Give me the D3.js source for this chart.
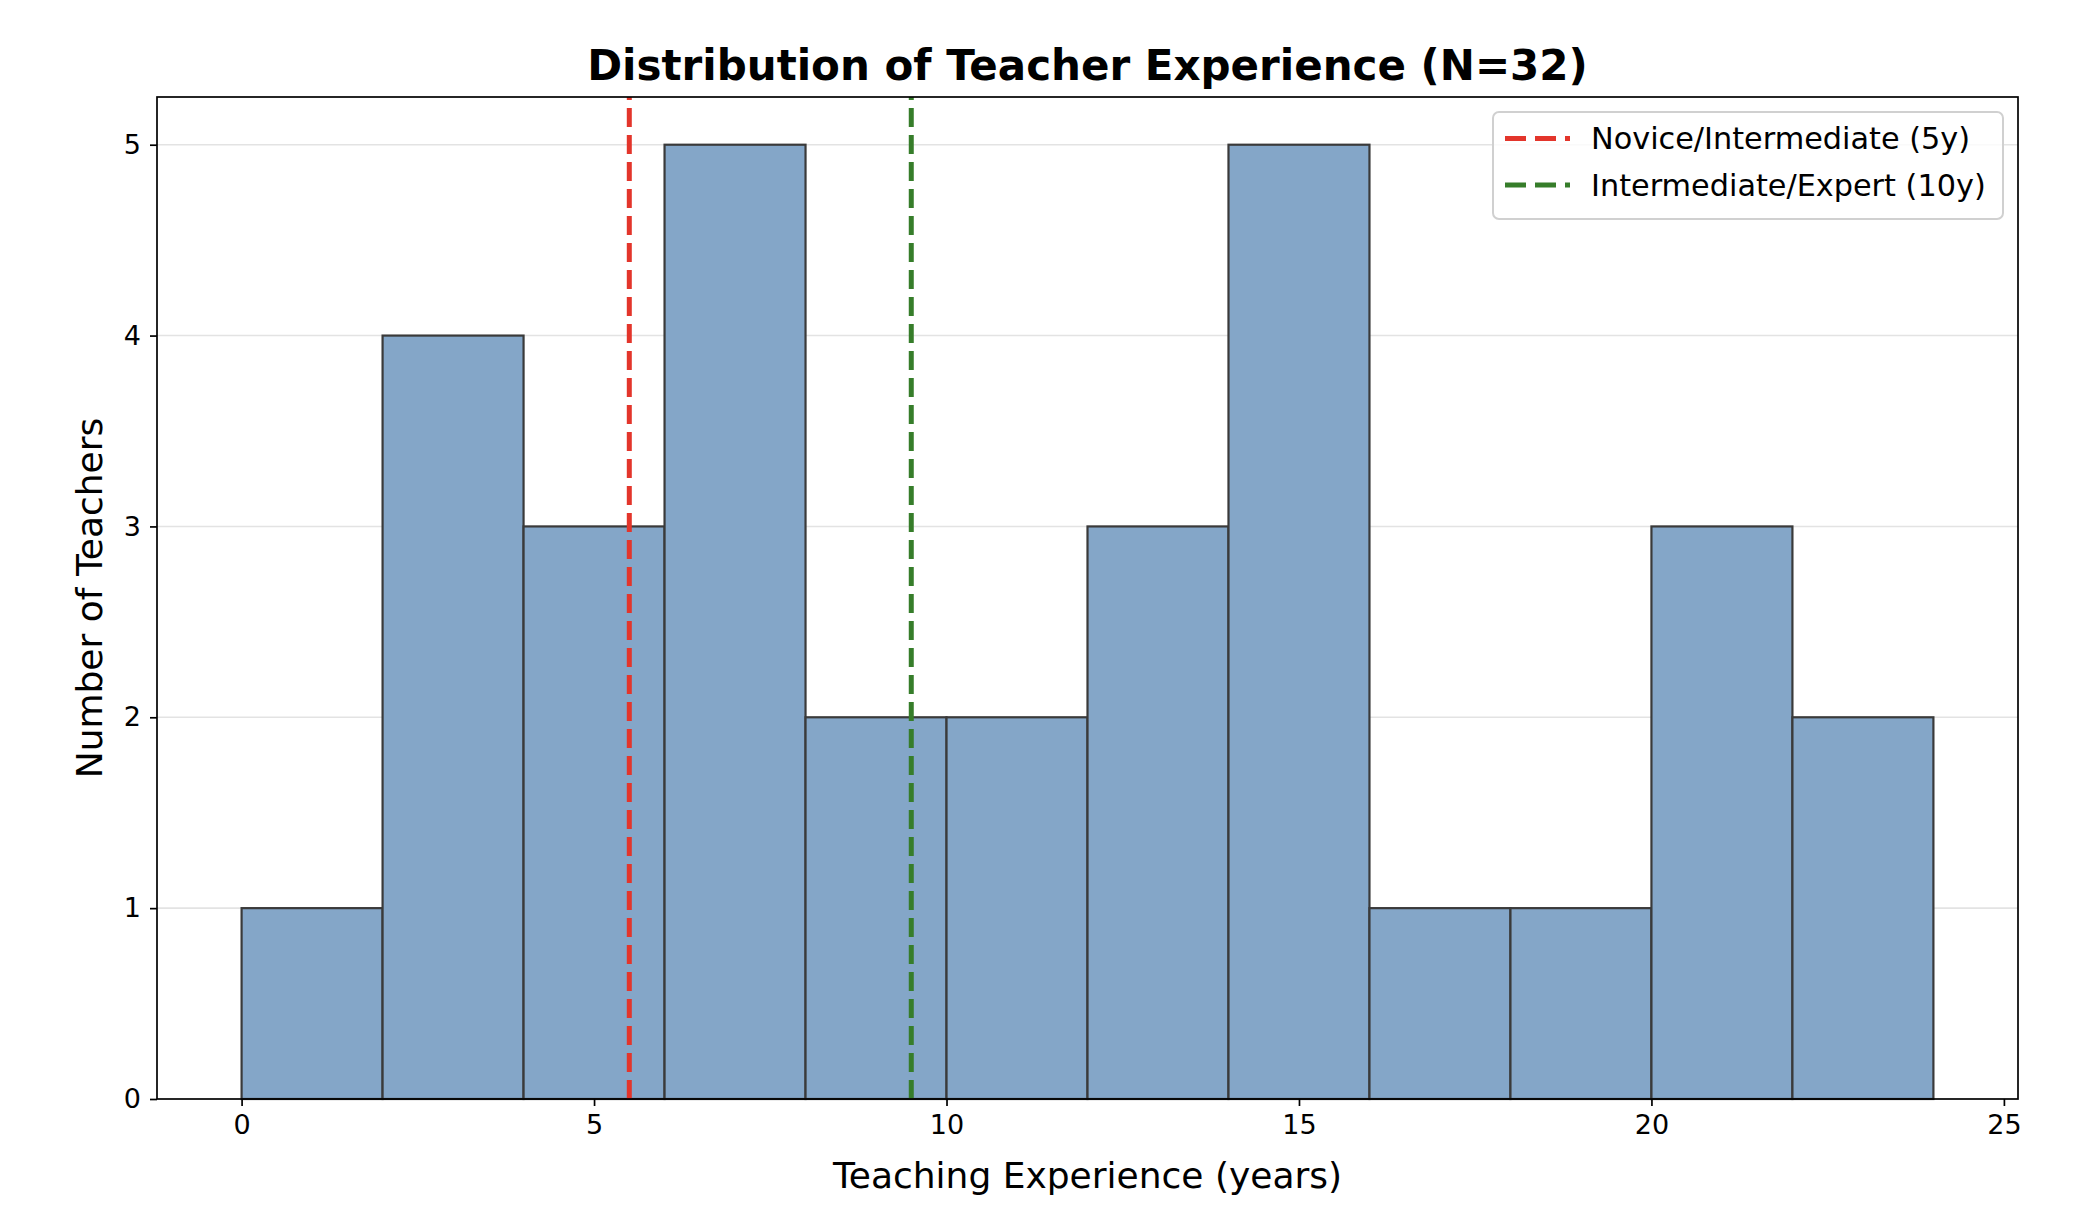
<!DOCTYPE html>
<html>
<head>
<meta charset="utf-8">
<script src="https://cdn.jsdelivr.net/npm/d3@7"></script>
<style>
  body { margin: 0; background: #fff; }
  text { font-family: "DejaVu Sans", sans-serif; }
</style>
</head>
<body>
<svg id="chart" width="2098" height="1220"></svg>
<script>
// histogram bins (years) and teacher counts
var binEdges = [0, 2, 4, 6, 8, 10, 12, 14, 16, 18, 20, 22, 24];
var counts = [1, 4, 3, 5, 2, 2, 3, 5, 1, 1, 3, 2];
var xTicks = [0, 5, 10, 15, 20, 25];
var yTicks = [0, 1, 2, 3, 4, 5];
var thresholds = [5.5, 9.5];
var thresholdLabels = ["Novice/Intermediate (5y)", "Intermediate/Expert (10y)"];
var thresholdColors = ["#e3352b", "#367d2a"];

var bins = counts.map(function(c, i) {
  return {x0: binEdges[i], x1: binEdges[i + 1], n: c};
});

var margin = {left: 157, right: 80, top: 97, bottom: 121};
var W = 2098, H = 1220;
var svg = d3.select("#chart");

var xScale = d3.scaleLinear()
  .domain([-1.2, 25.2])
  .range([margin.left, W - margin.right]);
var yScale = d3.scaleLinear()
  .domain([0, 5.25])
  .range([H - margin.bottom, margin.top]);

// grid
svg.append("g")
  .selectAll("line")
  .data(yTicks.slice(1))
  .enter()
  .append("line")
  .attr("x1", xScale.range()[0])
  .attr("x2", xScale.range()[1])
  .attr("y1", function(d) { return yScale(d); })
  .attr("y2", function(d) { return yScale(d); })
  .attr("stroke", "#e3e3e3")
  .attr("stroke-width", 1.6);

// bars
svg.append("g")
  .selectAll("rect")
  .data(bins)
  .enter()
  .append("rect")
  .attr("x", function(d) { return xScale(d.x0); })
  .attr("y", function(d) { return yScale(d.n); })
  .attr("width", function(d) { return xScale(d.x1) - xScale(d.x0); })
  .attr("height", function(d) { return yScale(0) - yScale(d.n); })
  .attr("fill", "#84a6c8")
  .attr("stroke", "#3a3a3a")
  .attr("stroke-width", 2.2);

// threshold lines
svg.append("g")
  .selectAll("line")
  .data(thresholds)
  .enter()
  .append("line")
  .attr("x1", function(d) { return xScale(d); })
  .attr("x2", function(d) { return xScale(d); })
  .attr("y1", yScale.range()[0])
  .attr("y2", yScale.range()[1])
  .attr("stroke", function(d, i) { return thresholdColors[i]; })
  .attr("stroke-width", 5)
  .attr("stroke-dasharray", "19,8");

// axes
var xAxis = svg.append("g")
  .attr("transform", "translate(0," + yScale.range()[0] + ")")
  .call(d3.axisBottom(xScale).tickValues(xTicks).tickSize(7).tickPadding(9));
var yAxis = svg.append("g")
  .attr("transform", "translate(" + xScale.range()[0] + ",0)")
  .call(d3.axisLeft(yScale).tickValues(yTicks).tickSize(7).tickPadding(9).tickFormat(d3.format("d")));

[xAxis, yAxis].forEach(function(a) {
  a.select(".domain").remove();
  a.selectAll(".tick line").attr("stroke", "#000").attr("stroke-width", 1.7);
  a.selectAll(".tick text").attr("font-size", 27).attr("fill", "#000")
    .style("font-family", "DejaVu Sans");
});

// frame
svg.append("rect")
  .attr("x", xScale.range()[0])
  .attr("y", yScale.range()[1])
  .attr("width", xScale.range()[1] - xScale.range()[0])
  .attr("height", yScale.range()[0] - yScale.range()[1])
  .attr("fill", "none")
  .attr("stroke", "#000")
  .attr("stroke-width", 1.7);

// title and labels
svg.append("text")
  .attr("x", (xScale.range()[0] + xScale.range()[1]) / 2)
  .attr("y", 80)
  .attr("text-anchor", "middle")
  .attr("font-size", 42)
  .attr("font-weight", "bold")
  .text("Distribution of Teacher Experience (N=32)");

svg.append("text")
  .attr("x", (xScale.range()[0] + xScale.range()[1]) / 2)
  .attr("y", 1188)
  .attr("text-anchor", "middle")
  .attr("font-size", 36)
  .text("Teaching Experience (years)");

svg.append("text")
  .attr("transform", "translate(102," + (yScale.range()[0] + yScale.range()[1]) / 2 + ") rotate(-90)")
  .attr("text-anchor", "middle")
  .attr("font-size", 36)
  .text("Number of Teachers");

// legend
var lg = svg.append("g").attr("transform", "translate(1493,112)");
lg.append("rect")
  .attr("width", 510)
  .attr("height", 107)
  .attr("rx", 6)
  .attr("fill", "#fff")
  .attr("fill-opacity", 0.8)
  .attr("stroke", "#d0d0d0")
  .attr("stroke-width", 2);

var items = lg.selectAll("g.item")
  .data(thresholdLabels)
  .enter()
  .append("g")
  .attr("class", "item")
  .attr("transform", function(d, i) { return "translate(0," + (26.5 + i * 46.5) + ")"; });
items.append("line")
  .attr("x1", 12)
  .attr("x2", 77)
  .attr("stroke", function(d, i) { return thresholdColors[i]; })
  .attr("stroke-width", 5)
  .attr("stroke-dasharray", "21,9");
items.append("text")
  .attr("x", 98)
  .attr("y", 10.5)
  .attr("font-size", 30.3)
  .text(function(d) { return d; });
</script>
</body>
</html>
